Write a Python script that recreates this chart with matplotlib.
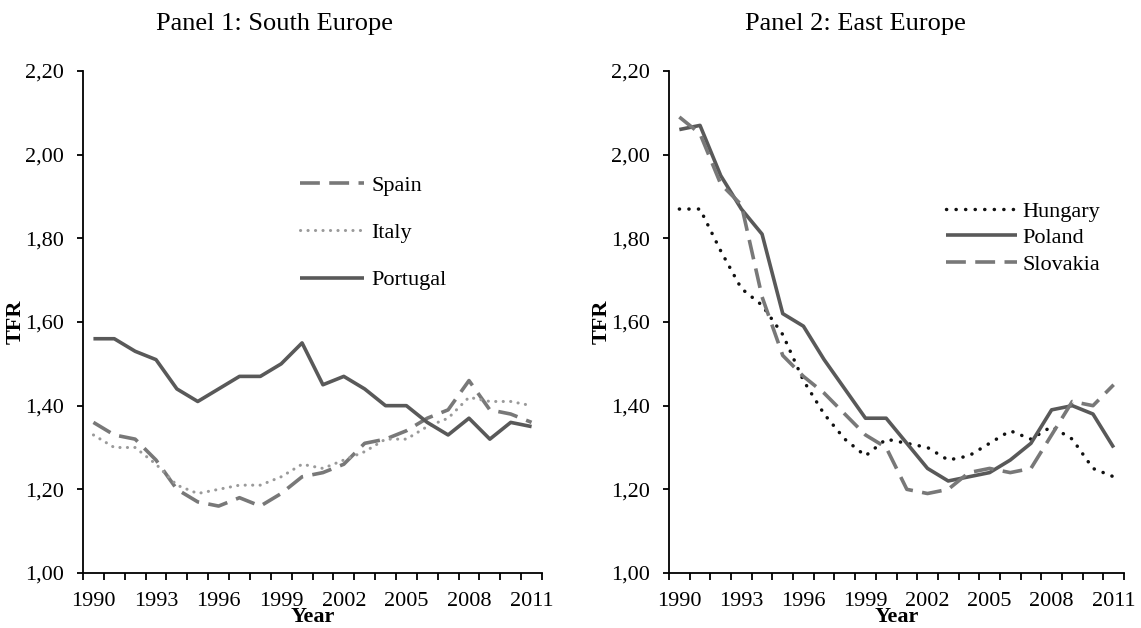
import matplotlib
matplotlib.use("Agg")
import matplotlib.pyplot as plt
from matplotlib.ticker import FixedLocator

years = list(range(1990, 2012))
year_labels = [str(y) if (y - 1990) % 3 == 0 else "" for y in years]
y_ticks = [1.00, 1.20, 1.40, 1.60, 1.80, 2.00, 2.20]
y_tick_labels = ["1,00", "1,20", "1,40", "1,60", "1,80", "2,00", "2,20"]

# Panel 1: South Europe
spain = [1.36, 1.33, 1.32, 1.27, 1.20, 1.17, 1.16, 1.18, 1.16, 1.19, 1.23,
         1.24, 1.26, 1.31, 1.32, 1.34, 1.37, 1.39, 1.46, 1.39, 1.38, 1.36]
italy = [1.33, 1.30, 1.30, 1.26, 1.21, 1.19, 1.20, 1.21, 1.21, 1.23, 1.26,
         1.25, 1.27, 1.29, 1.32, 1.32, 1.35, 1.37, 1.42, 1.41, 1.41, 1.40]
portugal = [1.56, 1.56, 1.53, 1.51, 1.44, 1.41, 1.44, 1.47, 1.47, 1.50, 1.55,
            1.45, 1.47, 1.44, 1.40, 1.40, 1.36, 1.33, 1.37, 1.32, 1.36, 1.35]

# Panel 2: East Europe
hungary = [1.87, 1.87, 1.77, 1.68, 1.64, 1.57, 1.46, 1.38, 1.32, 1.28, 1.32,
           1.31, 1.30, 1.27, 1.28, 1.31, 1.34, 1.32, 1.35, 1.32, 1.25, 1.23]
poland = [2.06, 2.07, 1.95, 1.87, 1.81, 1.62, 1.59, 1.51, 1.44, 1.37, 1.37,
          1.31, 1.25, 1.22, 1.23, 1.24, 1.27, 1.31, 1.39, 1.40, 1.38, 1.30]
slovakia = [2.09, 2.05, 1.93, 1.88, 1.66, 1.52, 1.47, 1.43, 1.38, 1.33, 1.30,
            1.20, 1.19, 1.20, 1.24, 1.25, 1.24, 1.25, 1.33, 1.41, 1.40, 1.45]

plt.rcParams['font.family'] = ['Liberation Serif', 'DejaVu Serif']
FS = 16

fig = plt.figure(figsize=(11.41, 6.28), dpi=100)
ax1 = fig.add_axes([83 / 1141, 1 - 573 / 628, 459 / 1141, 502 / 628])
ax2 = fig.add_axes([669 / 1141, 1 - 573 / 628, 455 / 1141, 502 / 628])

x = list(range(len(years)))

solid = dict(color="#595959", lw=2.6, linestyle="-", solid_capstyle="butt")
dashed = dict(color="#787878", lw=2.6, linestyle=(0, (5.5, 2.6)), dash_capstyle="butt")
light_dot = dict(color="#9a9a9a", lw=2.2, linestyle=(0, (0.05, 2.4)), dash_capstyle="round")
black_dot = dict(color="#111111", lw=2.5, linestyle=(0, (0.05, 2.7)), dash_capstyle="round")

ax1.plot(x, spain, label="Spain", **dashed)
ax1.plot(x, italy, label="Italy", **light_dot)
ax1.plot(x, portugal, label="Portugal", **solid)

ax2.plot(x, hungary, label="Hungary", **black_dot)
ax2.plot(x, poland, label="Poland", **solid)
ax2.plot(x, slovakia, label="Slovakia", **dashed)

for ax in (ax1, ax2):
    ax.set_xlim(-0.5, len(years) - 0.5)
    ax.set_ylim(1.0, 2.2)
    ax.spines['top'].set_visible(False)
    ax.spines['right'].set_visible(False)
    ax.spines['left'].set_linewidth(1.3)
    ax.spines['bottom'].set_linewidth(1.3)
    ax.set_yticks(y_ticks)
    ax.set_yticklabels(y_tick_labels, fontsize=FS)
    ax.tick_params(axis='y', direction='out', length=4.5, width=1.3, pad=9)
    ax.set_xticks(x)
    ax.set_xticklabels(year_labels, fontsize=FS)
    ax.tick_params(axis='x', which='major', length=0, pad=14)
    ax.xaxis.set_minor_locator(FixedLocator([i - 0.5 for i in range(len(years) + 1)]))
    ax.tick_params(axis='x', which='minor', direction='out', length=5, width=1.3)
    ax.set_ylabel("TFR", fontsize=FS, fontweight='bold')
    ax.set_xlabel("Year", fontsize=FS, fontweight='bold', labelpad=-3)

ax1.yaxis.set_label_coords(-0.124, 0.5)
ax2.yaxis.set_label_coords(-0.125, 0.5)

fig.text(274 / 1141, 1 - 24 / 628, "Panel 1: South Europe", fontsize=19,
         ha='center', va='center')
fig.text(855 / 1141, 1 - 24 / 628, "Panel 2: East Europe", fontsize=19,
         ha='center', va='center')

ax1.legend(loc='upper left', bbox_to_anchor=(300 / 1141, 1 - 175 / 628),
           bbox_transform=fig.transFigure, frameon=False, fontsize=FS,
           handlelength=2.9, handletextpad=0.3, labelspacing=1.21,
           borderpad=0, borderaxespad=0)
ax2.legend(loc='upper left', bbox_to_anchor=(946 / 1141, 1 - 201 / 628),
           bbox_transform=fig.transFigure, frameon=False, fontsize=FS,
           handlelength=3.2, handletextpad=0.25, labelspacing=0.27,
           borderpad=0, borderaxespad=0)

fig.savefig("out.png", dpi=100)
